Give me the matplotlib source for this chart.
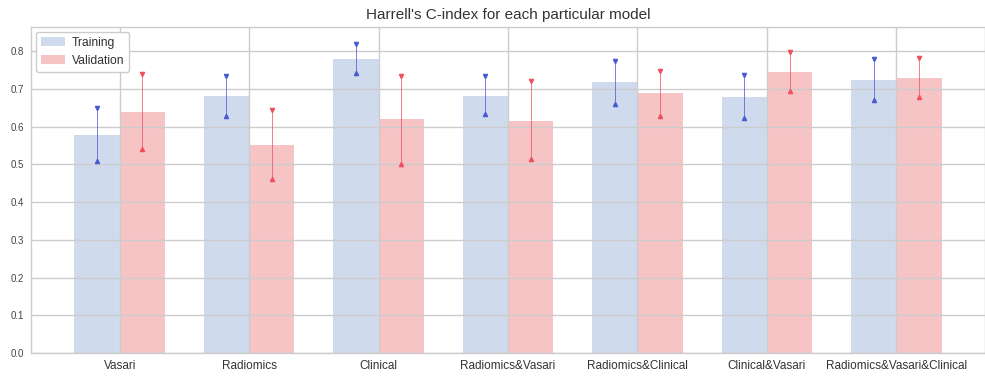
import matplotlib
matplotlib.use("Agg")
import matplotlib.pyplot as plt
import numpy as np

models = ["Vasari", "Radiomics", "Clinical", "Radiomics&Vasari", "Radiomics&Clinical",
          "Clinical&Vasari", "Radiomics&Vasari&Clinical"]
train_mean = [0.579, 0.680, 0.778, 0.680, 0.718, 0.678, 0.724]
train_low = [0.509, 0.627, 0.741, 0.634, 0.660, 0.623, 0.670]
train_high = [0.650, 0.734, 0.818, 0.733, 0.773, 0.737, 0.778]
val_mean = [0.638, 0.551, 0.619, 0.615, 0.688, 0.745, 0.729]
val_low = [0.541, 0.461, 0.501, 0.514, 0.629, 0.695, 0.679]
val_high = [0.739, 0.643, 0.733, 0.720, 0.748, 0.799, 0.783]

plt.rcParams['font.family'] = ['Liberation Sans', 'DejaVu Sans']

fig = plt.figure(figsize=(9.85, 3.83), dpi=100)
ax = fig.add_axes([0.0315, 0.0783, 0.9685, 0.8512])

x = np.arange(len(models))
w = 0.35
tm, vm = np.array(train_mean), np.array(val_mean)
tl, th = np.array(train_low), np.array(train_high)
vl, vh = np.array(val_low), np.array(val_high)

ax.bar(x - w/2, tm, w, color='#a0b6dc', alpha=0.5, label='Training', zorder=1)
ax.bar(x + w/2, vm, w, color='#f08a8e', alpha=0.5, label='Validation', zorder=1)

bcol = '#4a5ad0'
rcol = '#f04f5e'
ax.errorbar(x - w/2, tm, yerr=[tm - tl, th - tm], fmt='none', ecolor=bcol, elinewidth=0.7, capsize=0, zorder=3, alpha=0.75)
ax.errorbar(x + w/2, vm, yerr=[vm - vl, vh - vm], fmt='none', ecolor=rcol, elinewidth=0.7, capsize=0, zorder=3, alpha=0.75)
ax.plot(x - w/2, th, 'v', color=bcol, ms=3, ls='none', zorder=4)
ax.plot(x - w/2, tl, '^', color=bcol, ms=3, ls='none', zorder=4)
ax.plot(x + w/2, vh, 'v', color=rcol, ms=3, ls='none', zorder=4)
ax.plot(x + w/2, vl, '^', color=rcol, ms=3, ls='none', zorder=4)

ax.set_xlim(-0.685, 6.685)
ax.set_ylim(0, 0.864)
ax.set_xticks(x)
ax.set_xticklabels(models, fontsize=8.5, color='#333333')
ax.set_yticks(np.arange(0, 0.81, 0.1))
ax.set_yticklabels([f"{v:.1f}" for v in np.arange(0, 0.81, 0.1)], fontsize=7, color='#444444')
ax.tick_params(length=0, pad=5)
ax.grid(True, color='#cccccc', linewidth=1.0, zorder=2)
ax.set_axisbelow(False)
for s in ax.spines.values():
    s.set_color('#cccccc')
    s.set_linewidth(1.0)

ax.set_title("Harrell's C-index for each particular model", fontsize=11, color='#333333', pad=6)
leg = ax.legend(loc='upper left', fontsize=8.7, frameon=True, framealpha=1, edgecolor='#cccccc',
                handlelength=2.0, handletextpad=0.6, borderaxespad=0.4, borderpad=0.4)
for t in leg.get_texts():
    t.set_color('#333333')

fig.savefig("out.png", dpi=100)
